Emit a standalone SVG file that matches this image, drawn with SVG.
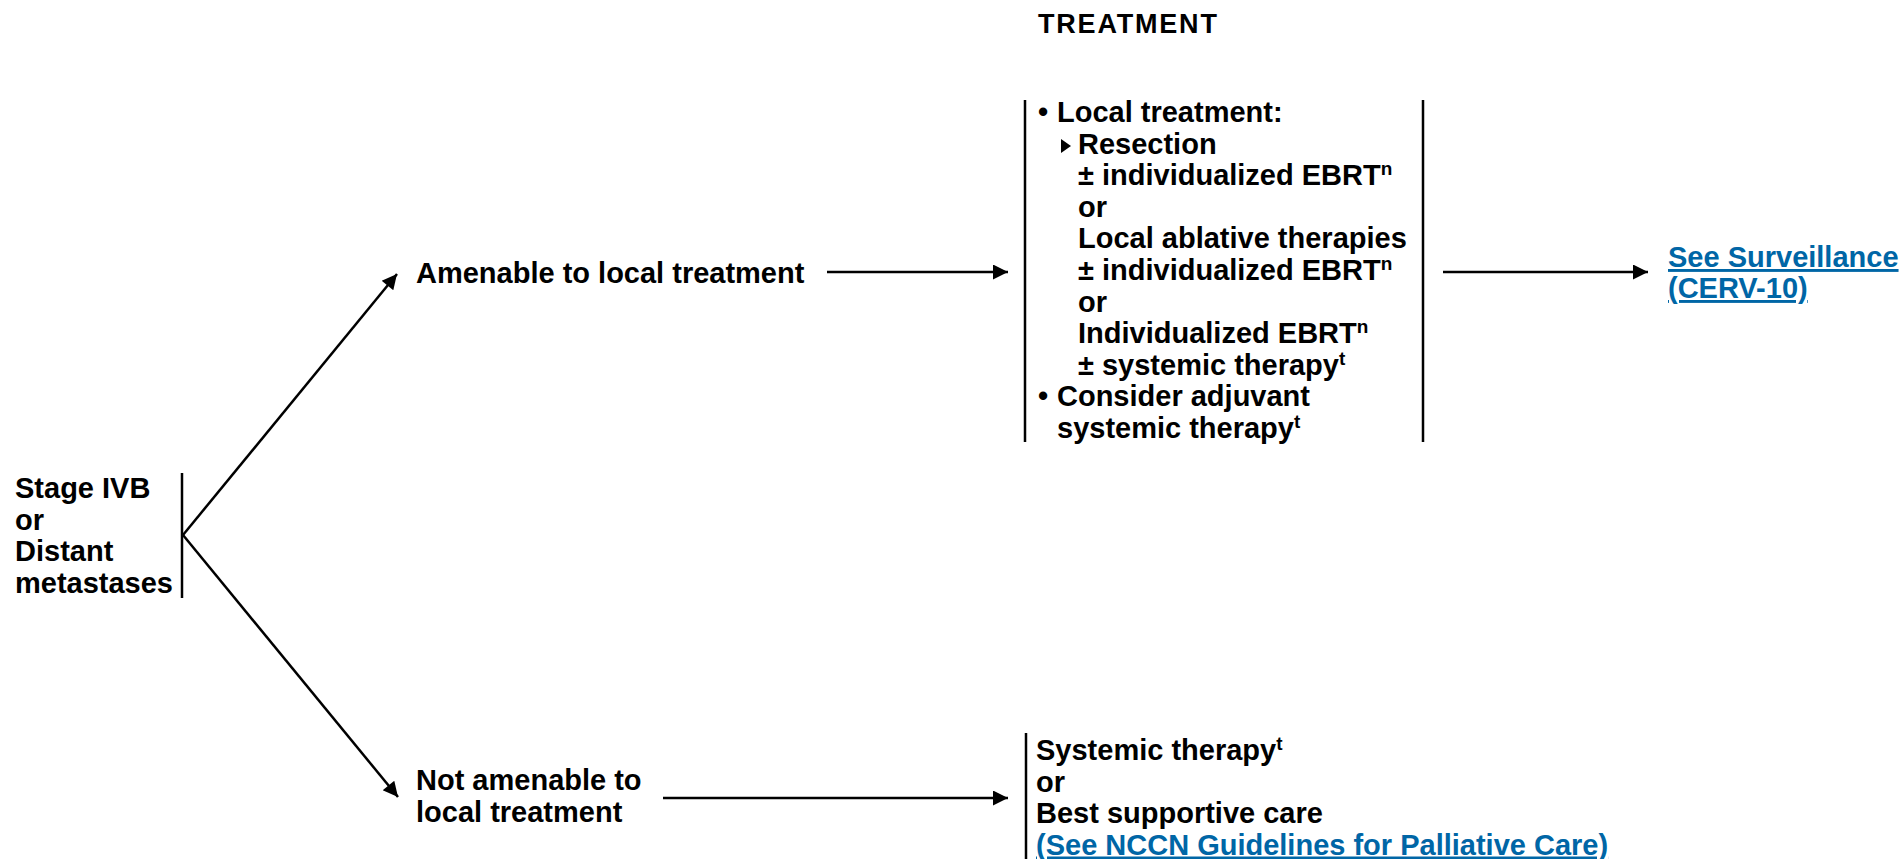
<svg xmlns="http://www.w3.org/2000/svg" width="1904" height="859" viewBox="0 0 1904 859">
<style>
text{font-family:"Liberation Sans",Arial,sans-serif;font-weight:bold;font-size:29px;fill:#000}
.sup{font-size:19px}
.link{fill:#0066a6;text-decoration:underline}
.bar{stroke:#000;stroke-width:2.5;fill:none}
.conn{stroke:#000;stroke-width:2.5;fill:none;marker-end:url(#ah)}
</style>
<defs>
<marker id="ah" viewBox="0 0 10 10" refX="10" refY="5" markerWidth="8" markerHeight="6" markerUnits="strokeWidth" orient="auto">
<path d="M0,0L10,5L0,10z" fill="#000"/>
</marker>
</defs>
<text id="title" x="1038" y="33" style="font-size:27px;letter-spacing:1.8px">TREATMENT</text>
<g id="stage">
<line class="bar" x1="182" y1="473" x2="182" y2="598"/>
<text x="15" y="498">Stage IVB</text>
<text x="15" y="529.5">or</text>
<text x="15" y="561">Distant</text>
<text x="15" y="592.5">metastases</text>
</g>
<g id="amenable">
<text x="416" y="283">Amenable to local treatment</text>
</g>
<g id="not-amenable">
<text x="416" y="790">Not amenable to</text>
<text x="416" y="822">local treatment</text>
</g>
<g id="local-box">
<line class="bar" x1="1025" y1="100" x2="1025" y2="442"/>
<line class="bar" x1="1423" y1="100" x2="1423" y2="442"/>
<text x="1038" y="122">•</text><text x="1057" y="122">Local treatment:</text>
<path d="M1061,139L1071,146L1061,153z" fill="#000"/>
<text x="1078" y="153.6">Resection</text>
<text x="1078" y="185.2">± individualized EBRT<tspan class="sup" dy="-10">n</tspan></text>
<text x="1078" y="216.8">or</text>
<text x="1078" y="248.4">Local ablative therapies</text>
<text x="1078" y="280">± individualized EBRT<tspan class="sup" dy="-10">n</tspan></text>
<text x="1078" y="311.6">or</text>
<text x="1078" y="343.2">Individualized EBRT<tspan class="sup" dy="-10">n</tspan></text>
<text x="1078" y="374.8">± systemic therapy<tspan class="sup" dy="-10">t</tspan></text>
<text x="1038" y="406.4">•</text><text x="1057" y="406.4">Consider adjuvant</text>
<text x="1057" y="438">systemic therapy<tspan class="sup" dy="-10">t</tspan></text>
</g>
<g id="surveillance">
<text class="link" x="1668" y="267">See Surveillance</text>
<text class="link" x="1668" y="298">(CERV-10)</text>
</g>
<g id="systemic-box">
<line class="bar" x1="1026" y1="733" x2="1026" y2="859"/>
<text x="1036" y="760">Systemic therapy<tspan class="sup" dy="-10">t</tspan></text>
<text x="1036" y="791.5">or</text>
<text x="1036" y="823">Best supportive care</text>
<text class="link" x="1036" y="854.5">(See NCCN Guidelines for Palliative Care)</text>
</g>
<g id="connectors">
<line class="conn" x1="183" y1="535" x2="397" y2="274"/>
<line class="conn" x1="183" y1="535" x2="398" y2="797"/>
<line class="conn" x1="827" y1="272" x2="1008" y2="272"/>
<line class="conn" x1="1443" y1="272" x2="1648" y2="272"/>
<line class="conn" x1="663" y1="798" x2="1008" y2="798"/>
</g>
</svg>
